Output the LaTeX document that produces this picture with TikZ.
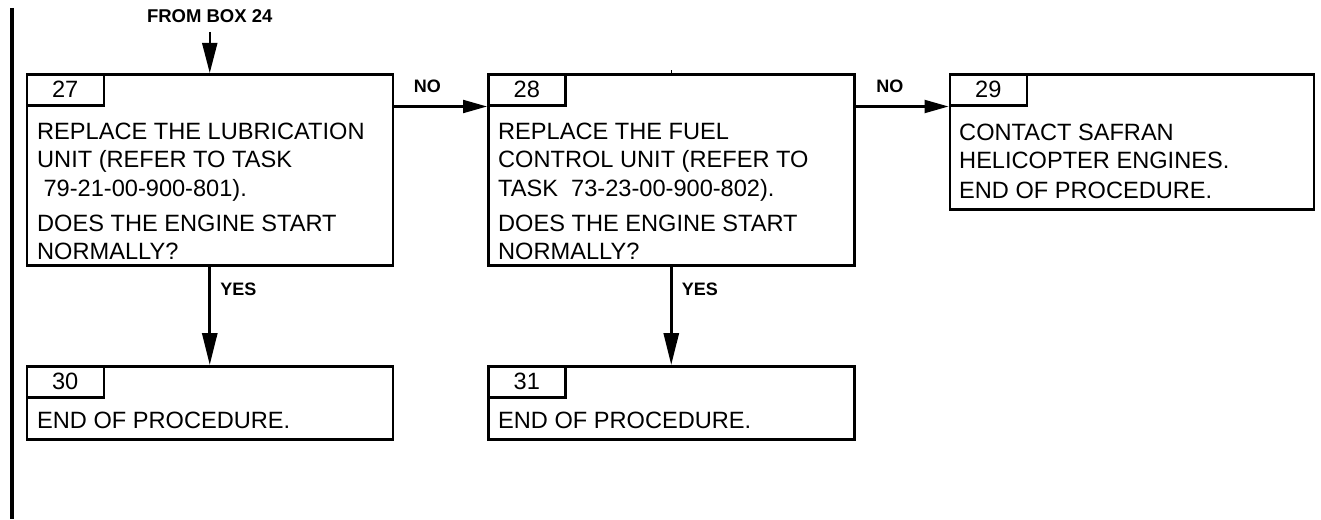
\documentclass[tikz,border=0pt]{standalone}
\usepackage{fontspec}
\setmainfont{Liberation Sans}
\usetikzlibrary{arrows.meta}
\newcommand\bodyfont{\fontsize{23.6}{28.5}\selectfont}
\newcommand\lblfont{\bfseries\fontsize{18}{20}\selectfont}
\begin{document}
\begin{tikzpicture}[x=1pt,y=-1pt,
  box/.style={draw,line width=2.5pt,anchor=north west,inner sep=0pt},
  tabbox/.style={draw,line width=2.5pt,anchor=north west,inner sep=0pt,
    minimum width=77pt,minimum height=31pt,font=\bodyfont},
  txt/.style={anchor=base west,inner sep=0pt,font=\bodyfont},
  lbl/.style={inner sep=0pt,font=\lblfont},
  yesarrow/.style={line width=3pt,-{Triangle[length=32pt,width=15pt]}},
  noarrow/.style={line width=2.2pt,-{Triangle[length=24pt,width=13pt]}},
  toparrow/.style={line width=2pt,-{Triangle[length=30pt,width=15pt]}}]
\fill[white] (0,0) rectangle (1321,519);
\useasboundingbox (0,0) rectangle (1321,519);
% change bar
\draw[line width=4pt] (12,8) -- (12,519);

% boxes
\node[box,minimum width=366pt,minimum height=191pt] (b27) at (25.5,73) {};
\node[tabbox] (t27) at (b27.north west) {27};
\node[box,minimum width=366pt,minimum height=191pt] (b28) at (487,73) {};
\node[tabbox] (t28) at (b28.north west) {28};
\node[box,minimum width=364pt,minimum height=135pt] (b29) at (948.5,73) {};
\node[tabbox] (t29) at (b29.north west) {29};
\node[box,minimum width=366pt,minimum height=73pt] (b30) at (25.5,365) {};
\node[tabbox] (t30) at (b30.north west) {30};
\node[box,minimum width=366pt,minimum height=73pt] (b31) at (487,365) {};
\node[tabbox] (t31) at (b31.north west) {31};

% box 27 text
\node[txt] (l271) at (37,139) {REPLACE THE LUBRICATION};
\node[txt] (l272) at (37,167.5) {UNIT (REFER TO TASK};
\node[txt] (l273) at (37,196) {\hspace*{.27em}79-21-00-900-801).};
\node[txt] (l274) at (37,231) {DOES THE ENGINE START};
\node[txt] (l275) at (37,259.5) {NORMALLY?};
% box 28 text
\node[txt] (l281) at (498,139) {REPLACE THE FUEL};
\node[txt] (l282) at (498,167.5) {CONTROL UNIT (REFER TO};
\node[txt] (l283) at (498,196) {TASK\ \ 73-23-00-900-802).};
\node[txt] (l284) at (498,231) {DOES THE ENGINE START};
\node[txt] (l285) at (498,259.5) {NORMALLY?};
% box 29 text
\node[txt] (l291) at (959,140) {CONTACT SAFRAN};
\node[txt] (l292) at (959,168.5) {HELICOPTER ENGINES.};
\node[txt] (l293) at (959,198) {END OF PROCEDURE.};
% box 30/31 text
\node[txt] (l301) at (37,428) {END OF PROCEDURE.};
\node[txt] (l311) at (498,428) {END OF PROCEDURE.};

% incoming arrow
\coordinate (from) at (b27.north |- 0,32);
\node[lbl,anchor=base,font=\bfseries\fontsize{18.5}{20}\selectfont] (fromlbl) at ([yshift=9.5pt]from) {FROM BOX 24};
\draw[toparrow] (from) -- (b27.north);
% stub on box 28
\draw[line width=1.5pt] (b28.north) -- ++(0,-3);

% NO arrows
\draw[noarrow] (b27.east |- t27.south) -- (b28.west |- t27.south)
  node[lbl,pos=.36,anchor=base,yshift=14pt] {NO};
\draw[noarrow] (b28.east |- t28.south) -- (b29.west |- t28.south)
  node[lbl,pos=.37,anchor=base,yshift=14pt] {NO};

% YES arrows
\draw[yesarrow] (b27.south) -- (b30.north)
  node[lbl,pos=.29,anchor=base west,xshift=9pt] {YES};
\draw[yesarrow] (b28.south) -- (b31.north)
  node[lbl,pos=.29,anchor=base west,xshift=9pt] {YES};
\end{tikzpicture}
\end{document}
